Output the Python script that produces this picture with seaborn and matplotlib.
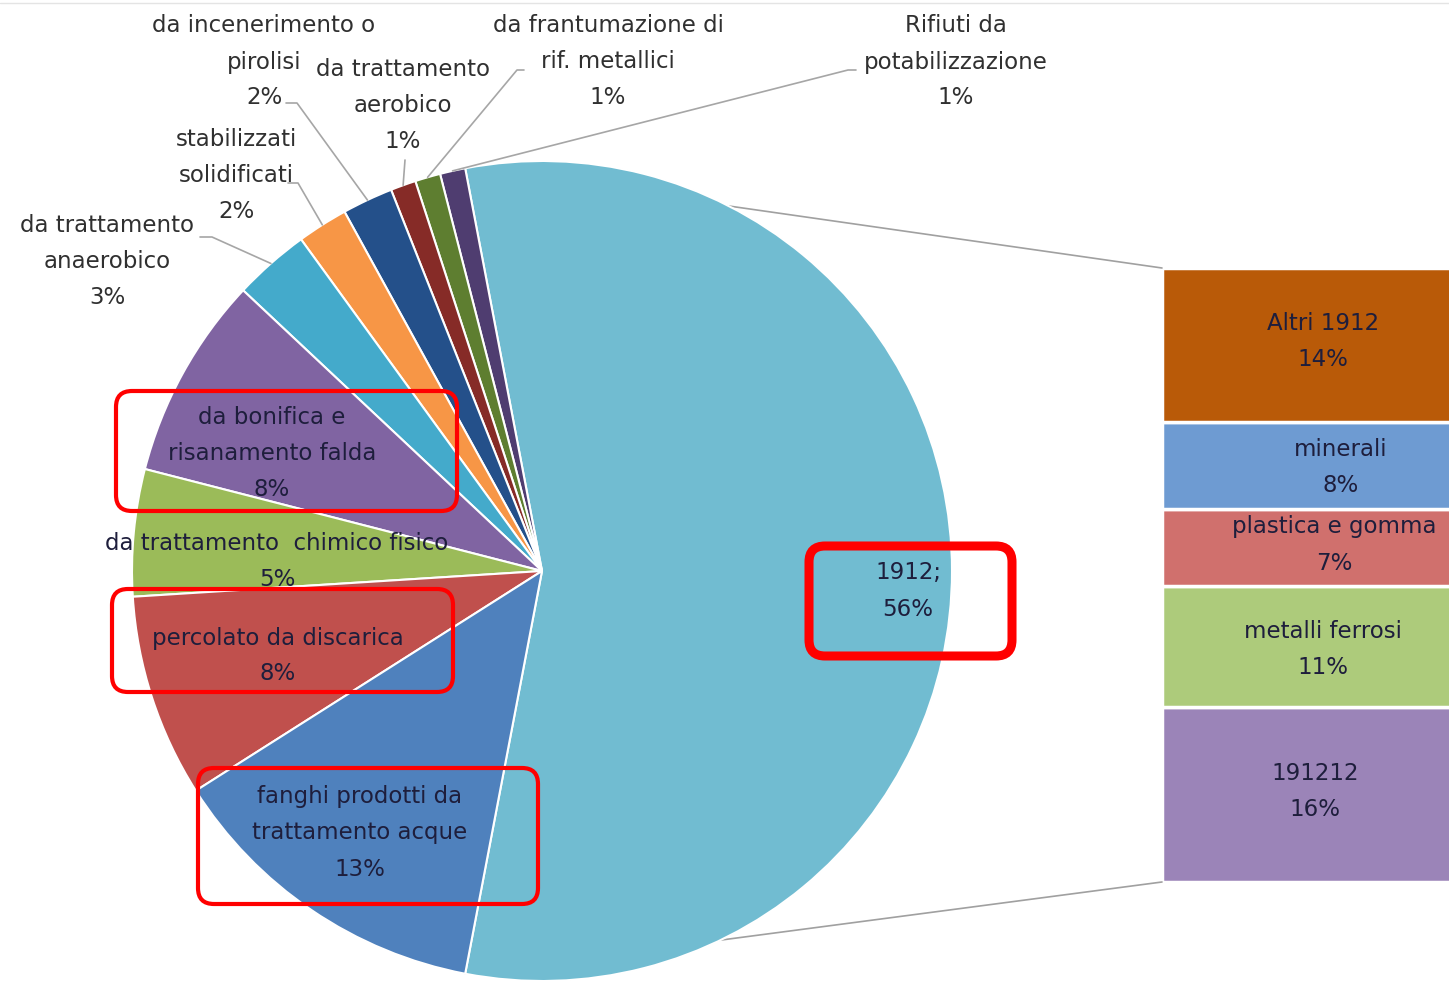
import numpy as np
import pandas as pd
import matplotlib.pyplot as plt
import seaborn as sns
from matplotlib.patches import FancyBboxPatch

# stile
sns.set_style("white")
plt.rcParams['font.family'] = ['DejaVu Sans']

# dati torta (% sul totale)
pie_labels = ["1912;", "Rifiuti da\npotabilizzazione", "da frantumazione di\nrif. metallici",
              "da trattamento\naerobico", "da incenerimento o\npirolisi", "stabilizzati\nsolidificati",
              "da trattamento\nanaerobico", "da bonifica e\nrisanamento falda",
              "da trattamento  chimico fisico", "percolato da discarica",
              "fanghi prodotti da\ntrattamento acque"]
pie_values = [56, 1, 1, 1, 2, 2, 3, 8, 5, 8, 13]
pie_colors = ["#71BCD1", "#4F3D70", "#5E7E30", "#862B27", "#24508A", "#F79646",
              "#44AACB", "#8064A2", "#9BBB59", "#C0504D", "#4F81BD"]

# dettaglio 1912 (barra a destra)
bar_labels = ["Altri 1912", "minerali", "plastica e gomma", "metalli ferrosi", "191212"]
bar_values = [14, 8, 7, 11, 16]
bar_colors = ["#B95A08", "#6E9BD2", "#D0706D", "#ADCB7B", "#9B84B8"]

W, H = 1449, 981
fig = plt.figure(figsize=(W / 100, H / 100), dpi=100)

# barra impilata (sotto, a destra, tagliata dal bordo)
bax = fig.add_axes([1162 / W, (H - 882) / H, 400 / W, 614 / H])
bax.set_zorder(0)
df_bar = pd.DataFrame({"x": [0] * len(bar_labels), "cat": bar_labels, "pct": bar_values})
sns.histplot(data=df_bar, x="x", hue="cat", weights="pct", multiple="stack", discrete=True,
             hue_order=bar_labels, palette=dict(zip(bar_labels, bar_colors)),
             edgecolor="white", linewidth=2.5, alpha=1, shrink=1, legend=False, ax=bax)
bax.set_xlim(-0.5, 0.5)
bax.set_ylim(0, sum(bar_values))
bax.axis("off")

# asse principale in coordinate pixel (y verso il basso)
ax = fig.add_axes([0, 0, 1, 1])
ax.set_zorder(1)
ax.patch.set_alpha(0)
cx, cy, r = 542, 571, 410
start = pie_values[0] / sum(pie_values) * 360 / 2
wedges, _ = ax.pie(pie_values, colors=pie_colors, center=(cx, cy), radius=r,
                   startangle=start, counterclock=False,
                   wedgeprops=dict(edgecolor="white", linewidth=1.5))
ax.set_xlim(0, W)
ax.set_ylim(H, 0)
ax.set_aspect("equal")
ax.axis("off")

ax.axhline(3, color="#E4E4E4", lw=1)


def edge_point(theta):
    t = np.deg2rad(theta)
    return cx + r * np.cos(t), cy + r * np.sin(t)


# linee di collegamento torta -> barra (sotto la torta)
bl = ax.transData.inverted().transform(bax.transAxes.transform((0, 0)))
tl = ax.transData.inverted().transform(bax.transAxes.transform((0, 1)))
p_a = edge_point(wedges[0].theta1)
p_b = edge_point(wedges[0].theta2)
p_top, p_bot = (p_a, p_b) if p_a[1] < p_b[1] else (p_b, p_a)
for a, b in [(p_top, tl), (p_bot, bl)]:
    ax.plot([a[0], b[0]], [a[1], b[1]], color="#A0A0A0", lw=1.2, zorder=0.5)

FS, STEP = 16.5, 36


def put_lines(x, yc, lines, color):
    n = len(lines)
    for k, line in enumerate(lines):
        ax.text(x, yc + (k - (n - 1) / 2) * STEP, line, ha="center", va="center",
                fontsize=FS, color=color, zorder=5)


# etichette della torta
label_pos = {0: (908, 591), 1: (956, 62), 2: (608, 62), 3: (403, 106), 4: (264, 62),
             5: (236, 176), 6: (107, 262), 7: (272, 454), 8: (277, 562), 9: (278, 656),
             10: (360, 833)}
inside = {0, 7, 8, 9, 10}
for i, lab in enumerate(pie_labels):
    x, y = label_pos[i]
    put_lines(x, y, lab.split("\n") + [f"{pie_values[i]}%"],
              "#1E1E3C" if i in inside else "#303030")

# linee guida per le etichette esterne: (punto di partenza, gomito)
leaders = {1: [(856, 70), (848, 70)], 2: [(524, 70), (517, 70)], 3: [(405, 160)],
           4: [(286, 103), (297, 103)], 5: [(288, 183), (298, 183)],
           6: [(200, 237), (212, 237)]}
for i, pts in leaders.items():
    mid = (wedges[i].theta1 + wedges[i].theta2) / 2
    end = edge_point(mid)
    xs = [p[0] for p in pts] + [end[0]]
    ys = [p[1] for p in pts] + [end[1]]
    ax.plot(xs, ys, color="#A6A6A6", lw=1.2, zorder=4)

# etichette della barra
bar_pos = [(1323, 341), (1341, 467), (1334, 545), (1323, 650), (1315, 792)]
for lab, v, (x, y) in zip(bar_labels, bar_values, bar_pos):
    put_lines(x, y, [lab, f"{v}%"], "#1E1E3C")

# riquadri rossi di evidenziazione
boxes = [((116, 391, 341, 120), 3), ((112, 589, 341, 103), 3),
         ((198, 768, 340, 136), 3), ((809, 546, 203, 110), 6.5)]
for (x0, y0, w, h), lw in boxes:
    ax.add_patch(FancyBboxPatch((x0, y0), w, h, boxstyle="round,pad=0,rounding_size=16",
                                ec="#FF0000", fc="none", lw=lw, zorder=6))

plt.savefig("out.png", dpi=100)
